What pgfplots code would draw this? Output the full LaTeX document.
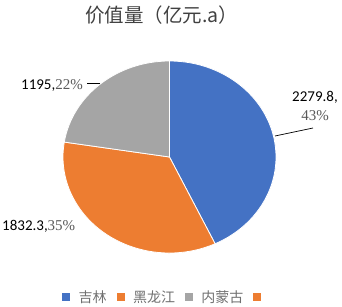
\documentclass[border=0pt]{standalone}
\usepackage{pgfplots}
\pgfplotsset{compat=1.18}
\usepackage{pgfplotstable}
\usepackage{fontspec}
\newfontfamily\cjk{Noto Sans CJK SC}
\newfontfamily\carlito{Carlito}
\newfontfamily\tnr{Liberation Serif}
\setmainfont{Carlito}
\definecolor{pieblue}{HTML}{4472C4}
\definecolor{pieorange}{HTML}{ED7D31}
\definecolor{piegray}{HTML}{A5A5A5}
\definecolor{titlegray}{HTML}{404040}
\definecolor{pctgray}{HTML}{595959}
\definecolor{leggray}{HTML}{707070}

\pgfplotstableread{
idx value pct
0 2279.8 43
1 1832.3 35
2 1195 22
}\piedata

\begin{document}
\begin{tikzpicture}
\useasboundingbox (0,0) rectangle (342pt,306pt);
\pgfplotstablegetelem{0}{value}\of\piedata \let\va\pgfplotsretval
\pgfplotstablegetelem{1}{value}\of\piedata \let\vb\pgfplotsretval
\pgfplotstablegetelem{2}{value}\of\piedata \let\vc\pgfplotsretval
\pgfmathsetmacro\total{\va+\vb+\vc}
\pgfmathsetmacro\fa{\va/\total}
\pgfmathsetmacro\fb{\vb/\total}
\pgfmathsetmacro\fc{\vc/\total}
\pgfmathsetmacro\aA{90}
\pgfmathsetmacro\aB{90-360*\fa}
\pgfmathsetmacro\aC{\aB-360*\fb}
\pgfmathsetmacro\aD{\aC-360*\fc}
\begin{axis}[
  x=1pt, y=1pt,
  xmin=0, xmax=342, ymin=0, ymax=306,
  hide axis, clip=false,
  legend columns=4,
  legend style={at={(axis cs:167,9)}, anchor=center, draw=none, fill=none,
    font=\cjk\fontsize{14}{16}\selectfont, text=leggray,
    /tikz/every even column/.append style={column sep=8pt},
    /tikz/every odd column/.append style={column sep=7pt},
    inner sep=0pt},
  legend image code/.code={\fill[#1] (0pt,-3.5pt) rectangle (7pt,3.5pt);},
]
\addlegendimage{pieblue}
\addlegendentry{吉林}
\addlegendimage{pieorange}
\addlegendentry{黑龙江}
\addlegendimage{piegray}
\addlegendentry{内蒙古}
\addlegendimage{pieorange}
\addlegendentry{}

\fill[pieblue, draw=white, line width=0.8pt] (axis cs:169.5,149) -- (axis cs:{169.5+106.5*cos(\aA)},{149+96*sin(\aA)}) arc[start angle=\aA, end angle=\aB, x radius=106.5pt, y radius=96pt] -- cycle;
\fill[pieorange, draw=white, line width=0.8pt] (axis cs:169.5,149) -- (axis cs:{169.5+106.5*cos(\aB)},{149+96*sin(\aB)}) arc[start angle=\aB, end angle=\aC, x radius=106.5pt, y radius=96pt] -- cycle;
\fill[piegray, draw=white, line width=0.8pt] (axis cs:169.5,149) -- (axis cs:{169.5+106.5*cos(\aC)},{149+96*sin(\aC)}) arc[start angle=\aC, end angle=\aD, x radius=106.5pt, y radius=96pt] -- cycle;

% leader lines
\draw[black, line width=0.7pt] (axis cs:87,223) -- (axis cs:100,223);
\draw[black, line width=0.7pt] (axis cs:275,170) -- (axis cs:313,178);

% labels
\node[anchor=east, inner sep=0pt, font=\fontsize{15}{17}\selectfont] at (axis cs:83,221) {{\carlito 1195,}{\tnr\color{pctgray}22\%}};
\node[anchor=west, inner sep=0pt, font=\fontsize{15}{17}\selectfont] at (axis cs:2,80) {{\carlito 1832.3,}{\tnr\color{pctgray}35\%}};
\node[align=center, inner sep=0pt, font=\fontsize{15}{19}\selectfont] at (axis cs:315,200) {{\carlito 2279.8,}\\{\tnr\color{pctgray}43\%}};

% title
\node[font=\cjk\fontsize{19.5}{22}\selectfont, text=titlegray] at (axis cs:161.5,291) {价值量（亿元.a）};
\end{axis}
\end{tikzpicture}
\end{document}
